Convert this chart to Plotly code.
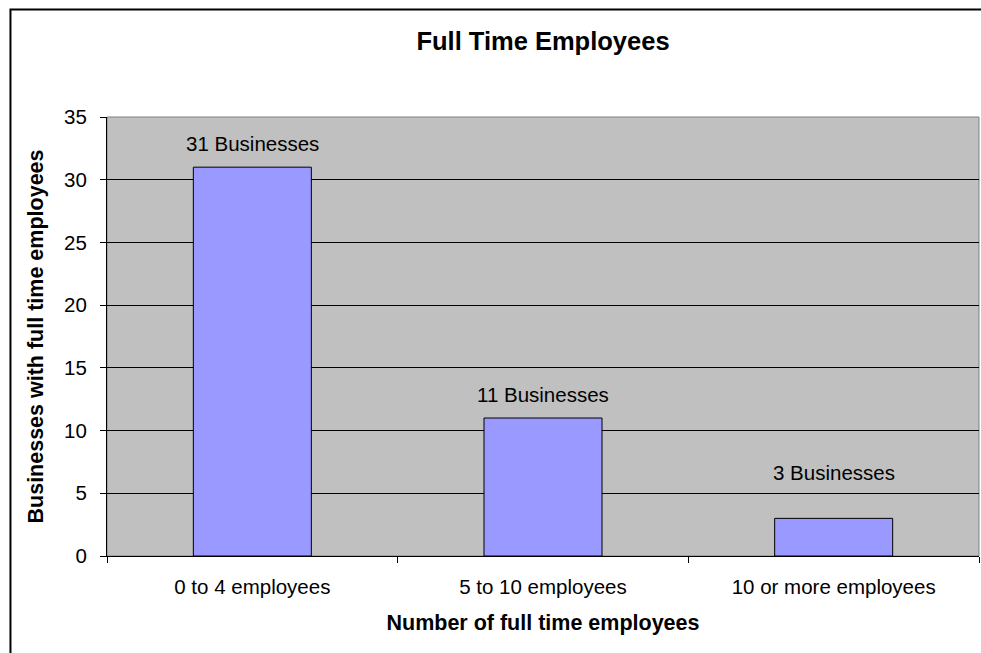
import plotly.graph_objects as go

# data
categories = ["0 to 4 employees", "5 to 10 employees", "10 or more employees"]
businesses = [31, 11, 3]
bar_labels = ["31 Businesses", "11 Businesses", "3 Businesses"]

FONT = "Liberation Sans, Arial, sans-serif"
# label offsets above bar tops (px); the last label sits clear of the gridline
label_shift = [24, 24, 46]

fig = go.Figure(go.Bar(
    x=categories,
    y=businesses,
    marker=dict(color="#9999FF", line=dict(color="black", width=1)),
    hoverinfo="skip",
))

# value labels above each bar
for cat, val, lab, dy in zip(categories, businesses, bar_labels, label_shift):
    fig.add_annotation(x=cat, y=val, text=lab, showarrow=False,
                       yshift=dy, font=dict(size=20.5, color="black", family=FONT))

# plot area border (grey) and outer chart frame (black)
fig.add_shape(type="rect", xref="paper", yref="paper", x0=0, x1=1, y0=0, y1=1,
              line=dict(color="#808080", width=1), layer="below")
fig.add_shape(type="rect", xref="paper", yref="paper",
              x0=-0.1107, x1=1.05, y0=-0.3, y1=1.2449,
              line=dict(color="black", width=2))

fig.update_layout(
    width=981, height=653,
    margin=dict(l=107, r=2, t=117, b=97),
    paper_bgcolor="white",
    plot_bgcolor="#C0C0C0",
    bargap=0.594,
    showlegend=False,
    font=dict(family=FONT, color="black", size=20.5),
    title=dict(text="<b>Full Time Employees</b>", x=0.5, xref="paper", xanchor="center",
               y=0.937, yanchor="middle", font=dict(size=25.5, family=FONT, color="black")),
    xaxis=dict(
        title=dict(text="<b>Number of full time employees</b>", font=dict(size=21.5), standoff=18),
        showline=True, linecolor="black", linewidth=1,
        ticks="outside", ticklen=6, tickcolor="black", tickson="boundaries",
        tickfont=dict(size=20.5), ticklabelstandoff=12,
        showgrid=False, automargin=False,
    ),
    yaxis=dict(
        title=dict(text="<b>Businesses with full time employees</b>", font=dict(size=21.5), standoff=14),
        range=[0, 35], dtick=5,
        showline=True, linecolor="black", linewidth=1,
        ticks="outside", ticklen=6, tickcolor="black",
        tickfont=dict(size=20.5), ticklabelstandoff=9,
        showgrid=True, gridcolor="black", gridwidth=1,
        zeroline=False, automargin=False,
    ),
)

fig.write_html("out.html", config={"displayModeBar": False},
               post_script="document.body.style.margin='0';document.body.style.overflow='hidden';")
